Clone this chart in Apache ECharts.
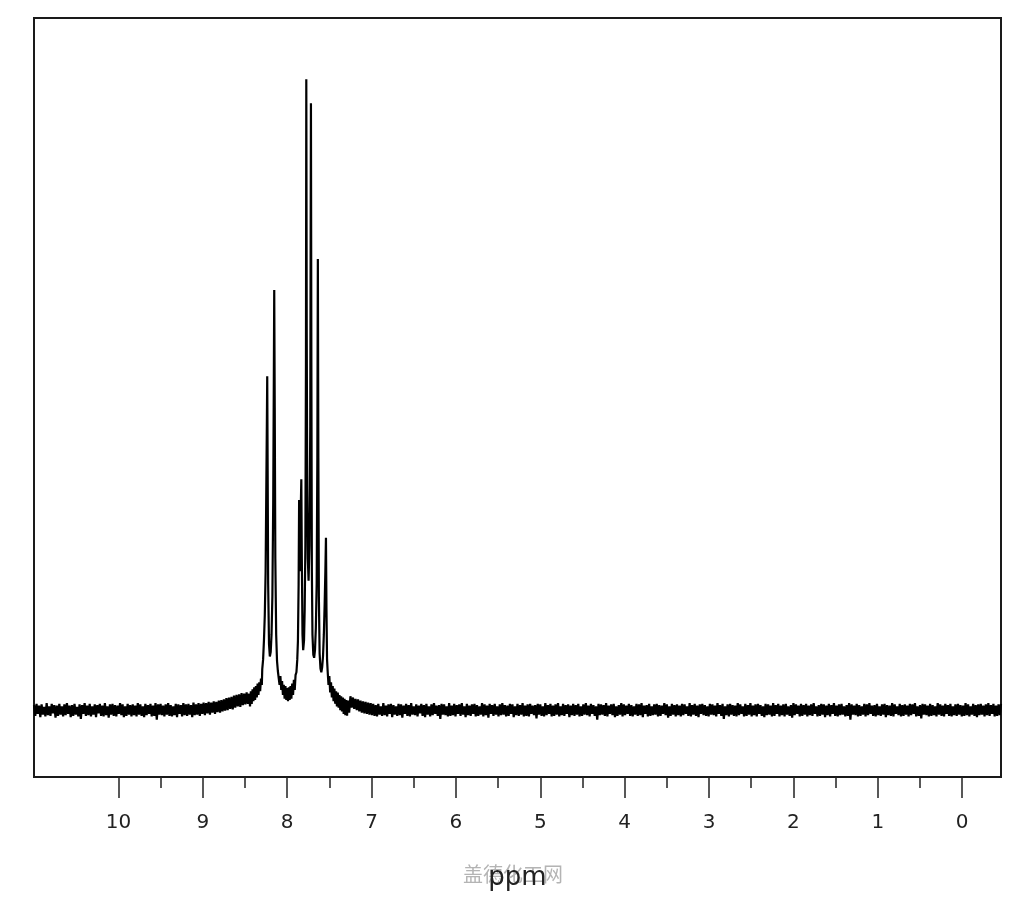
<!DOCTYPE html>
<html>
<head>
<meta charset="utf-8">
<script src="https://cdn.jsdelivr.net/npm/echarts@6/dist/echarts.min.js"></script>
<style>html,body{margin:0;padding:0;background:#fff;}#chart{width:1024px;height:900px;}</style>
</head>
<body>
<div id="chart"></div>
<script>
// ---- data (chemical shift in ppm, intensity in % of tallest peak) ----
const majorTicks = [0, 1, 2, 3, 4, 5, 6, 7, 8, 9, 10];
const minorTicks = [0.5, 1.5, 2.5, 3.5, 4.5, 5.5, 6.5, 7.5, 8.5, 9.5];
const axisName = 'ppm';
const watermark = '盖德化工网';

// baseline noise left of the signals: 11.00 -> 8.48 ppm, step 0.015
const leftNoiseStart = 11.0;
const leftNoise = [
0.8,-0.9,1.0,-0.6,0.7,-1.1,0.9,-0.7,0.5,-1.0,1.1,-0.8,0.6,-0.9,1.0,-0.5,0.8,-1.2,0.7,-0.9,
1.0,-0.7,0.6,-1.0,0.9,-0.8,1.1,-0.6,0.7,-1.1,0.8,-0.9,1.0,-0.7,0.5,-1.0,0.9,-1.4,0.8,-0.6,
1.1,-0.9,0.7,-0.8,1.0,-1.0,0.6,-0.7,0.9,-1.1,0.8,-0.5,1.0,-0.9,0.7,-1.0,1.1,-0.8,0.6,-1.2,
0.9,-0.7,1.0,-0.9,0.8,-1.0,0.7,-0.6,1.1,-0.8,0.9,-1.1,0.6,-0.9,1.0,-0.7,0.8,-1.0,0.9,-0.8,
0.7,-1.0,1.1,-0.7,0.9,-0.9,0.6,-1.1,1.0,-0.8,0.8,-0.6,1.0,-1.0,0.7,-0.9,1.1,-1.5,0.9,-0.7,
1.0,-0.8,0.7,-1.0,0.9,-0.7,1.1,-0.9,0.8,-1.0,0.6,-0.8,1.0,-1.1,0.9,-0.6,0.8,-1.0,1.1,-0.8,
0.9,-0.9,1.0,-0.7,0.8,-1.1,1.2,-0.8,0.9,-0.7,1.1,-0.9,1.0,-0.6,1.2,-0.8,1.1,-0.5,1.3,-0.7,
1.2,-0.4,1.4,-0.6,1.3,-0.3,1.5,-0.4,1.6,-0.2,1.7,-0.1,1.9,0.0,2.0,0.2,2.1,0.1,2.3,0.4,
2.4,0.6,2.5,0.5,2.7,0.8,2.6,0.9,2.8
];

// aromatic signal region 8.465 -> 7.265 ppm, [ppm, intensity]
const peakRegion = [
[8.465,1.0],[8.45,2.6],[8.44,0.6],[8.43,3.0],[8.42,1.0],[8.41,3.3],[8.40,1.4],[8.39,3.6],[8.38,1.6],[8.37,3.8],[8.36,2.0],
[8.35,4.2],[8.34,2.4],[8.33,4.4],[8.32,3.0],[8.31,5.0],[8.30,4.0],[8.295,6.5],[8.285,8.0],[8.275,11],[8.265,15],
[8.255,22],[8.247,35],[8.24,46],[8.236,52.9],[8.231,38],[8.225,20],[8.215,10.5],[8.205,8.5],[8.195,9.2],[8.185,12],
[8.175,18],[8.165,33],[8.158,52],[8.153,66.6],[8.147,48],[8.14,24],[8.13,12],[8.12,7.8],[8.11,6.2],[8.10,6.4],
[8.09,4.0],[8.08,5.4],[8.07,3.2],[8.06,4.6],[8.05,2.4],[8.04,4.0],[8.03,1.8],[8.02,3.8],[8.01,1.6],[8.00,3.5],
[7.99,1.4],[7.98,3.6],[7.97,1.6],[7.96,3.8],[7.95,1.8],[7.94,4.2],[7.93,2.4],[7.92,4.8],[7.91,3.2],[7.90,5.6],
[7.89,6.0],[7.88,8.0],[7.872,11],[7.864,20],[7.858,33.3],[7.85,24],[7.843,22],[7.837,33],[7.832,36.6],[7.826,24],
[7.818,12],[7.81,9.5],[7.80,11],[7.792,16],[7.784,26],[7.777,55],[7.773,100],[7.768,60],[7.762,35],[7.755,24],
[7.746,20.5],[7.736,26],[7.726,45],[7.718,96.2],[7.713,55],[7.707,22],[7.70,12],[7.69,8.8],[7.68,8.3],[7.67,9.5],
[7.66,13],[7.65,20],[7.642,40],[7.636,71.5],[7.63,40],[7.624,18],[7.615,9],[7.605,6.6],[7.595,6.0],[7.585,6.8],
[7.575,8.5],[7.565,12],[7.555,17],[7.547,22],[7.54,27.3],[7.534,16],[7.527,8],[7.52,6.2],[7.51,4.0],[7.50,5.4],
[7.49,2.8],[7.48,4.4],[7.47,2.0],[7.46,3.8],[7.45,1.4],[7.44,3.4],[7.43,1.0],[7.42,3.0],[7.41,0.6],[7.40,2.8],
[7.39,0.4],[7.38,2.4],[7.37,0.0],[7.36,2.2],[7.35,-0.2],[7.34,2.0],[7.33,-0.6],[7.32,1.8],[7.31,-0.8],[7.30,1.6],
[7.29,-0.9],[7.28,1.5],[7.265,-0.4]
];

// baseline noise right of the signals: 7.25 -> -0.46 ppm, step 0.015
const rightNoiseStart = 7.25;
const rightNoise = [
2.2,0.4,2.0,0.2,1.8,0.0,1.7,-0.2,1.5,-0.4,1.4,-0.5,1.3,-0.6,1.2,-0.7,1.1,-0.8,1.0,-0.9,
0.8,-1.0,1.0,-0.7,0.6,-0.9,1.1,-0.8,0.7,-1.0,0.9,-0.6,1.0,-1.1,0.8,-0.7,0.6,-0.9,1.0,-0.8,
0.9,-1.2,0.7,-0.6,1.0,-0.9,0.8,-1.0,1.1,-0.7,0.6,-0.8,0.9,-1.0,0.7,-0.5,1.0,-0.9,0.8,-1.1,
1.0,-0.7,0.6,-1.0,0.9,-0.8,1.1,-0.6,0.7,-0.9,0.8,-1.4,1.0,-0.7,0.9,-0.8,0.6,-1.0,1.1,-0.9,
0.7,-0.8,1.0,-1.0,0.8,-0.6,0.9,-0.9,1.1,-0.7,0.6,-1.1,1.0,-0.8,0.7,-0.9,0.9,-0.6,1.0,-1.0,
0.8,-0.9,0.6,-0.7,1.1,-1.0,0.9,-0.8,0.7,-1.2,1.0,-0.6,0.8,-0.9,1.0,-0.7,0.6,-1.0,0.9,-0.8,
1.1,-0.7,0.8,-1.0,0.7,-0.9,1.0,-0.6,0.9,-1.1,0.6,-0.8,1.0,-0.9,0.8,-0.7,1.1,-1.0,0.7,-0.9,
0.9,-1.0,1.0,-0.6,0.7,-0.8,0.8,-1.3,1.0,-0.7,0.9,-0.9,0.6,-1.0,1.1,-0.8,0.8,-0.6,1.0,-1.0,
0.7,-0.9,0.9,-0.7,1.1,-1.0,0.6,-0.8,1.0,-0.9,0.8,-0.6,0.9,-1.1,0.7,-0.8,1.0,-0.9,0.8,-0.7,
1.0,-1.0,0.6,-0.9,0.9,-0.7,1.1,-0.8,0.7,-1.0,1.0,-0.6,0.8,-0.9,0.6,-1.5,1.0,-0.8,0.9,-0.7,
0.8,-0.9,1.1,-1.0,0.7,-0.6,0.9,-0.8,1.0,-1.1,0.6,-0.9,0.8,-0.7,1.1,-1.0,0.9,-0.8,0.7,-0.6,
1.0,-0.9,0.8,-1.0,0.6,-0.7,1.0,-0.9,0.9,-0.8,1.1,-1.1,0.7,-0.6,0.8,-1.0,1.0,-0.9,0.6,-0.8,
0.9,-0.7,1.0,-1.0,0.8,-0.9,0.7,-0.6,1.1,-0.8,0.9,-1.2,0.6,-0.9,1.0,-0.7,0.8,-1.0,0.9,-0.8,
0.7,-1.0,1.0,-0.8,0.9,-0.6,0.6,-0.9,1.1,-1.0,0.8,-0.7,1.0,-0.9,0.7,-1.1,0.9,-0.6,1.0,-0.8,
0.8,-0.9,0.6,-1.0,1.0,-0.7,0.9,-0.8,0.7,-1.0,1.1,-0.6,0.8,-0.9,1.0,-1.4,0.6,-0.8,0.9,-1.0,
1.0,-0.7,0.8,-0.9,0.7,-1.0,1.1,-0.8,0.9,-0.6,0.6,-1.0,1.0,-0.9,0.8,-0.7,1.1,-1.0,0.7,-0.8,
0.9,-1.0,1.0,-0.6,0.8,-0.9,0.6,-1.1,1.0,-0.8,0.9,-0.7,0.7,-1.0,1.1,-0.9,0.8,-0.6,1.0,-1.0,
0.7,-0.8,0.9,-1.0,1.0,-0.7,0.6,-0.9,0.8,-1.2,1.1,-0.8,0.9,-0.6,0.7,-1.0,1.0,-0.9,0.8,-0.7,
1.0,-1.0,0.7,-0.8,0.9,-0.9,1.1,-0.6,0.6,-1.0,0.8,-0.9,1.0,-0.7,0.9,-1.1,0.7,-0.8,1.0,-1.0,
0.8,-0.6,1.1,-0.9,0.7,-1.0,0.9,-0.8,1.0,-0.7,0.6,-1.0,0.8,-0.9,1.1,-1.5,0.9,-0.7,0.7,-0.8,
1.0,-1.0,0.8,-0.9,0.6,-0.7,1.0,-1.0,0.9,-0.8,1.1,-0.6,0.7,-0.9,0.8,-1.0,1.0,-0.8,0.6,-0.9,
0.9,-0.7,1.0,-1.1,0.8,-0.8,0.7,-0.9,1.1,-1.0,0.9,-0.6,0.6,-0.8,1.0,-1.0,0.8,-0.9,0.9,-0.7,
0.7,-1.0,1.0,-0.8,0.9,-0.6,1.1,-1.0,0.6,-0.9,0.8,-1.3,1.0,-0.7,0.9,-0.8,0.7,-1.0,1.0,-0.9,
0.8,-0.8,0.6,-1.0,1.1,-0.7,0.9,-0.9,0.7,-1.0,1.0,-0.6,0.8,-0.9,1.0,-1.0,0.6,-0.8,0.9,-0.9,
1.0,-0.7,0.8,-1.0,0.7,-0.9,1.1,-0.8,0.9,-1.0,0.6,-0.7,1.0,-0.9,0.8,-1.1,0.9,-0.8,1.0,-0.7,
0.7,-1.0,0.9,-0.8,1.1,-0.9,0.8,-0.6,1.0,-1.0,0.7,-0.9,0.9,-0.8,1.0
];
const noiseStep = 0.015;

// ---- build series data ----
const spectrum = [];
leftNoise.forEach((v, i) => spectrum.push([+(leftNoiseStart - i * noiseStep).toFixed(3), v]));
peakRegion.forEach(p => spectrum.push(p));
rightNoise.forEach((v, i) => spectrum.push([+(rightNoiseStart - i * noiseStep).toFixed(3), v]));

const chart = echarts.init(document.getElementById('chart'), null, {renderer: 'canvas'});
const tickColor = '#222';
chart.setOption({
  animation: false,
  backgroundColor: '#fff',
  grid: {left: 34, top: 18, width: 967, height: 759, show: true, borderColor: '#1a1a1a', borderWidth: 2, backgroundColor: 'transparent'},
  xAxis: [{
    type: 'value', inverse: true, min: -0.46, max: 11.0,
    position: 'bottom',
    axisLine: {show: false, onZero: false},
    splitLine: {show: false},
    axisTick: {show: true, customValues: majorTicks, length: 21, lineStyle: {color: tickColor, width: 1.5}},
    axisLabel: {show: true, customValues: majorTicks, margin: 36, fontSize: 20, color: '#222', fontFamily: 'DejaVu Sans'},
    name: axisName, nameLocation: 'middle', nameGap: 88,
    nameTextStyle: {fontSize: 26, color: '#222', fontFamily: 'DejaVu Sans'}
  }, {
    type: 'value', inverse: true, min: -0.46, max: 11.0,
    position: 'bottom',
    axisLine: {show: false, onZero: false},
    splitLine: {show: false},
    axisTick: {show: true, customValues: minorTicks, length: 11, lineStyle: {color: tickColor, width: 1.5}},
    axisLabel: {show: false, customValues: minorTicks}
  }],
  yAxis: {type: 'value', min: -10.6, max: 109.7, show: false, splitLine: {show: false}},
  graphic: [{
    type: 'text', left: 463, top: 864, z: -1,
    style: {text: watermark, fontSize: 20, fill: '#b4b4b4', fontFamily: 'Noto Sans CJK SC'}
  }],
  series: [{
    type: 'line', xAxisIndex: 0, data: spectrum,
    showSymbol: false, symbol: 'none', sampling: null,
    lineStyle: {color: '#000', width: 2.2},
    silent: true
  }]
});
</script>
</body>
</html>
